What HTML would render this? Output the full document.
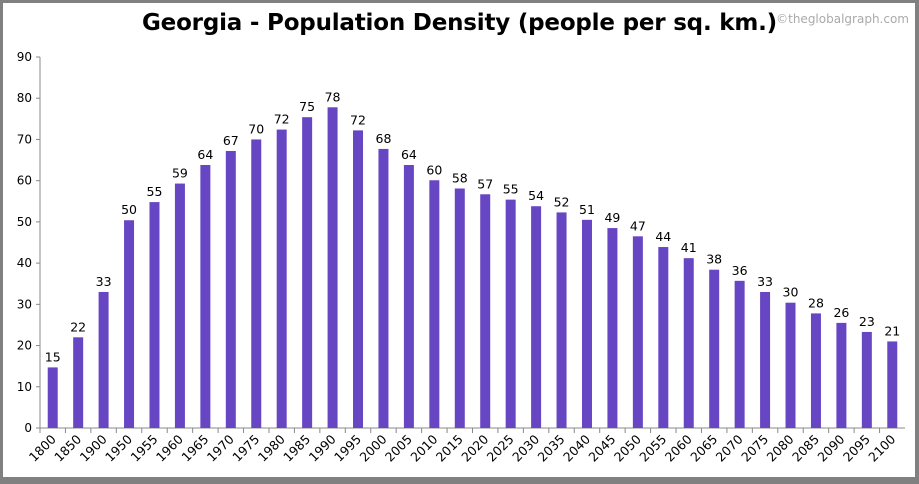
<!DOCTYPE html>
<html><head><meta charset="utf-8"><style>
html,body{margin:0;padding:0;}
body{width:919px;height:484px;background:#808080;position:relative;overflow:hidden;font-family:"DejaVu Sans","Liberation Sans",sans-serif;}
#panel{position:absolute;left:3px;top:3px;width:912px;height:474px;background:#fff;}
#title{position:absolute;left:0;width:919px;top:10px;text-align:center;font-weight:bold;font-size:23px;color:#000;letter-spacing:-0.2px;}
#wm{position:absolute;right:10px;top:12px;font-size:12px;color:#aaa;}
svg{position:absolute;left:0;top:0;}
</style></head><body>
<div id="panel"></div>
<div id="title">Georgia - Population Density (people per sq. km.)</div>
<div id="wm">©theglobalgraph.com</div>
<svg id="chart" width="919" height="484"></svg>
<script>
const categories=["1800","1850","1900","1950","1955","1960","1965","1970","1975","1980","1985","1990","1995","2000","2005","2010","2015","2020","2025","2030","2035","2040","2045","2050","2055","2060","2065","2070","2075","2080","2085","2090","2095","2100"];
const values=[14.7,22,33,50.4,54.8,59.3,63.8,67.2,70,72.4,75.4,77.8,72.2,67.7,63.8,60.1,58.1,56.7,55.4,53.8,52.3,50.5,48.5,46.5,43.9,41.2,38.4,35.7,33,30.4,27.8,25.5,23.3,21];
const yTicks=[0,10,20,30,40,50,60,70,80,90];
const NS="http://www.w3.org/2000/svg";
const svg=document.getElementById('chart');
const X0=40,X1=905,Y0=428,Y1=57,YMAX=90;
const bw=(X1-X0)/categories.length;
const y=v=>Y0-(v/YMAX)*(Y0-Y1);
const xc=i=>X0+bw*(i+0.5);
function mk(t,a){const e=document.createElementNS(NS,t);for(const k in a)e.setAttribute(k,a[k]);svg.appendChild(e);return e;}
let ax=mk('line',{x1:X0,y1:Y1,x2:X0,y2:Y0,stroke:'#888'});


let bx=mk('line',{x1:X0,y1:Y0,x2:X1,y2:Y0,stroke:'#888'});


yTicks.forEach(t=>{
  mk('line',{x1:X0-4,y1:y(t),x2:X0,y2:y(t),stroke:'#888'});
  const tx=mk('text',{x:X0-8,y:y(t)+4,'text-anchor':'end','font-size':12,fill:'#000'});
  tx.textContent=t;
  
  
});
categories.forEach((c,i)=>{
  mk('line',{x1:X0+bw*i,y1:Y0,x2:X0+bw*i,y2:Y0+5,stroke:'#888'});
  const v=values[i];
  const r=mk('rect',{x:xc(i)-5,y:y(v),width:10,height:Y0-y(v),fill:'#6746c4'});
  
  
  const l=mk('text',{x:xc(i),y:y(v)-6,'text-anchor':'middle','font-size':12.5,fill:'#000'});
  l.textContent=Math.round(v);
  
  
  const cx=xc(i)+4,cy=Y0+12;
  const t=mk('text',{x:cx,y:cy,'text-anchor':'end','font-size':12.5,fill:'#000',transform:`rotate(-45 ${cx} ${cy})`});
  t.textContent=c;
  
  
});
</script>
</body></html>
